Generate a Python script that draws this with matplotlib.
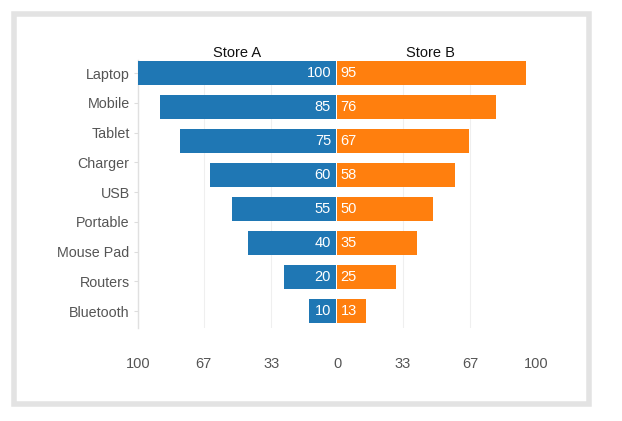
import matplotlib
matplotlib.use("Agg")
import matplotlib.pyplot as plt
from matplotlib.patches import Rectangle
import numpy as np

categories = ["Laptop", "Mobile", "Tablet", "Charger", "USB", "Portable", "Mouse Pad", "Routers", "Bluetooth"]
# bar lengths as drawn in the reference (8 bars)
store_a = [100, 88, 78, 63, 52, 44, 26, 13.5]
store_b = [95, 80, 66, 59, 48, 40, 29.5, 14.5]
# value labels printed on the bars
store_a_labels = [100, 85, 75, 60, 55, 40, 20, 10]
store_b_labels = [95, 76, 67, 58, 50, 35, 25, 13]
xticks = [-100, -67, -33, 0, 33, 67, 100]
xtick_labels = ["100", "67", "33", "0", "33", "67", "100"]
series_names = ["Store A", "Store B"]

plt.rcParams['font.family'] = ['Liberation Sans', 'DejaVu Sans']

W, H = 622, 421
fig = plt.figure(figsize=(W / 100, H / 100), dpi=100)
fig.patch.set_facecolor("white")

# outer frame
fig.patches.append(Rectangle((14 / W, 1 - 404 / H), (589 - 14) / W, (404 - 14) / H,
                             transform=fig.transFigure, fill=False,
                             edgecolor="#e3e3e3", linewidth=4))

left, right, top, bottom = 138, 536, 60, 328
ax = fig.add_axes([left / W, 1 - bottom / H, (right - left) / W, (bottom - top) / H])

ycat = np.arange(len(categories))
ybar = np.linspace(0, len(categories) - 1, len(store_a))
blue = "#1f77b4"
orange = "#ff7f0e"
ax.barh(ybar, [-v for v in store_a], height=0.81, color=blue, left=-0.7, zorder=3)
ax.barh(ybar, store_b, height=0.81, color=orange, left=0.1, zorder=3)

for i, yb in enumerate(ybar):
    ax.text(-3, yb, str(store_a_labels[i]), color="white", ha="right", va="center",
            fontsize=10.5, zorder=4)
    ax.text(1.8, yb, str(store_b_labels[i]), color="white", ha="left", va="center",
            fontsize=10.5, zorder=4)

ax.set_xlim(-100, 100)
ax.set_ylim(8.57, -0.437)
ax.set_yticks(ycat)
ax.set_yticklabels(categories, fontsize=10.3, color="#555555")
ax.set_xticks(xticks)
ax.set_xticklabels(xtick_labels, fontsize=10.5, color="#555555")
ax.tick_params(axis="x", length=0, pad=21)
ax.tick_params(axis="y", length=3, color="#dddddd", pad=3)

for x in [-67, -33, 33, 67]:
    ax.axvline(x, color="#efefef", linewidth=0.8, ymax=0.98, zorder=1)

for s in ["top", "right", "bottom"]:
    ax.spines[s].set_visible(False)
ax.spines["left"].set_color("#e0e0e0")
ax.spines["left"].set_linewidth(1)

ytitle = -0.437 - 6.5 / 29.75
ax.text(-50, ytitle, series_names[0], ha="center", va="center", fontsize=10.5, color="#111111")
ax.text(47, ytitle, series_names[1], ha="center", va="center", fontsize=10.5, color="#111111")

fig.savefig("out.png", dpi=100, facecolor="white")
